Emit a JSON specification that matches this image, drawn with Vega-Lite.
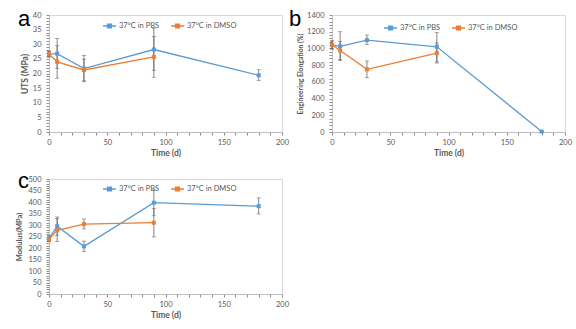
{
  "$schema": "https://vega.github.io/schema/vega-lite/v6.json",
  "background": "white",
  "padding": {"left": 15, "top": 7, "right": 0, "bottom": 0},
  "config": {
    "font": "Lato",
    "view": {"stroke": "#d9d9d9", "strokeWidth": 1},
    "axis": {"grid": false, "domainColor": "#bfbfbf", "tickColor": "#8c8c8c", "tickSize": 3, "labelColor": "#595959", "labelFontSize": 7.5, "titleColor": "#595959", "titleFontSize": 8.5, "titleFontWeight": "bold", "labelOverlap": false, "labelBound": false, "labelFlush": false},
    "legend": {"labelFontSize": 7.5, "labelColor": "#595959"}
  },
  "datasets": {
    "d": [
      {"p": "a", "s": "37°C in PBS", "t": 0, "v": 26.6, "lo": 25.6, "hi": 27.6},
      {"p": "a", "s": "37°C in PBS", "t": 7, "v": 26.8, "lo": 21.7, "hi": 32.0},
      {"p": "a", "s": "37°C in PBS", "t": 30, "v": 21.7, "lo": 17.2, "hi": 26.2},
      {"p": "a", "s": "37°C in PBS", "t": 90, "v": 28.2, "lo": 21.1, "hi": 35.5},
      {"p": "a", "s": "37°C in PBS", "t": 180, "v": 19.4, "lo": 17.6, "hi": 21.3},
      {"p": "a", "s": "37°C in DMSO", "t": 0, "v": 26.7, "lo": 25.7, "hi": 27.7},
      {"p": "a", "s": "37°C in DMSO", "t": 7, "v": 24.0, "lo": 18.4, "hi": 29.5},
      {"p": "a", "s": "37°C in DMSO", "t": 30, "v": 21.2, "lo": 17.5, "hi": 24.9},
      {"p": "a", "s": "37°C in DMSO", "t": 90, "v": 25.7, "lo": 18.7, "hi": 32.7},
      {"p": "b", "s": "37°C in PBS", "t": 0, "v": 1040, "lo": 990, "hi": 1090},
      {"p": "b", "s": "37°C in PBS", "t": 7, "v": 1025, "lo": 855, "hi": 1200},
      {"p": "b", "s": "37°C in PBS", "t": 30, "v": 1100, "lo": 1045, "hi": 1160},
      {"p": "b", "s": "37°C in PBS", "t": 90, "v": 1020, "lo": 840, "hi": 1190},
      {"p": "b", "s": "37°C in PBS", "t": 180, "v": 5, "lo": 0, "hi": 10},
      {"p": "b", "s": "37°C in DMSO", "t": 0, "v": 1045, "lo": 1000, "hi": 1090},
      {"p": "b", "s": "37°C in DMSO", "t": 7, "v": 975, "lo": 865, "hi": 1085},
      {"p": "b", "s": "37°C in DMSO", "t": 30, "v": 750, "lo": 650, "hi": 850},
      {"p": "b", "s": "37°C in DMSO", "t": 90, "v": 945, "lo": 825, "hi": 1065},
      {"p": "c", "s": "37°C in PBS", "t": 0, "v": 242, "lo": 230, "hi": 254},
      {"p": "c", "s": "37°C in PBS", "t": 7, "v": 295, "lo": 255, "hi": 335},
      {"p": "c", "s": "37°C in PBS", "t": 30, "v": 207, "lo": 185, "hi": 230},
      {"p": "c", "s": "37°C in PBS", "t": 90, "v": 397, "lo": 340, "hi": 452},
      {"p": "c", "s": "37°C in PBS", "t": 180, "v": 382, "lo": 348, "hi": 418},
      {"p": "c", "s": "37°C in DMSO", "t": 0, "v": 238, "lo": 228, "hi": 248},
      {"p": "c", "s": "37°C in DMSO", "t": 7, "v": 277, "lo": 228, "hi": 328},
      {"p": "c", "s": "37°C in DMSO", "t": 30, "v": 304, "lo": 283, "hi": 326},
      {"p": "c", "s": "37°C in DMSO", "t": 90, "v": 310, "lo": 248, "hi": 372}
    ]
  },
  "bounds": "flush",
  "columns": 2,
  "spacing": {"column": 50, "row": 47},
  "resolve": {"scale": {"color": "independent", "x": "independent", "y": "independent"}, "legend": {"color": "independent"}, "axis": {"x": "independent", "y": "independent"}},
  "concat": [
    {
      "width": 233, "height": 117,
      "title": {"text": "a", "anchor": "start", "frame": "group", "fontSize": 22, "fontWeight": "normal", "color": "black", "font": "Liberation Sans", "baseline": "alphabetic", "offset": 0, "dy": 37, "dx": -31},
      "data": {"name": "d"},
      "transform": [{"filter": "datum.p === 'a'"}],
      "encoding": {
        "x": {"field": "t", "type": "quantitative", "scale": {"domain": [0, 200]}, "title": "Time (d)",
          "axis": {"values": [0,10,20,30,40,50,60,70,80,90,100,110,120,130,140,150,160,170,180,190,200], "labelExpr": "datum.value % 50 === 0 ? datum.label : ''", "labelOverlap": false, "labelPadding": 3, "titlePadding": 3}}
      },
      "layer": [
        {"mark": {"type": "rule", "color": "#666666", "strokeWidth": 0.8},
         "encoding": {"y": {"field": "lo", "type": "quantitative", "scale": {"domain": [0, 40]}, "title": "UTS (MPa)",
           "axis": {"values": [0,1,2,3,4,5,6,7,8,9,10,11,12,13,14,15,16,17,18,19,20,21,22,23,24,25,26,27,28,29,30,31,32,33,34,35,36,37,38,39,40], "labelExpr": "datum.value % 5 === 0 ? datum.label : ''", "labelOverlap": false, "labelPadding": 5, "titlePadding": 3}},
           "y2": {"field": "hi"}}},
        {"mark": {"type": "tick", "orient": "horizontal", "size": 4, "thickness": 0.8, "color": "#666666"},
         "encoding": {"y": {"field": "lo", "type": "quantitative", "title": "UTS (MPa)",
           "axis": {"values": [0,1,2,3,4,5,6,7,8,9,10,11,12,13,14,15,16,17,18,19,20,21,22,23,24,25,26,27,28,29,30,31,32,33,34,35,36,37,38,39,40], "labelExpr": "datum.value % 5 === 0 ? datum.label : ''", "labelOverlap": false, "labelPadding": 5, "titlePadding": 3}}}},
        {"mark": {"type": "tick", "orient": "horizontal", "size": 4, "thickness": 0.8, "color": "#666666"},
         "encoding": {"y": {"field": "hi", "type": "quantitative", "title": "UTS (MPa)",
           "axis": {"values": [0,1,2,3,4,5,6,7,8,9,10,11,12,13,14,15,16,17,18,19,20,21,22,23,24,25,26,27,28,29,30,31,32,33,34,35,36,37,38,39,40], "labelExpr": "datum.value % 5 === 0 ? datum.label : ''", "labelOverlap": false, "labelPadding": 5, "titlePadding": 3}}}},
        {"mark": {"type": "line", "strokeWidth": 1.3},
         "encoding": {"y": {"field": "v", "type": "quantitative", "title": "UTS (MPa)",
           "axis": {"values": [0,1,2,3,4,5,6,7,8,9,10,11,12,13,14,15,16,17,18,19,20,21,22,23,24,25,26,27,28,29,30,31,32,33,34,35,36,37,38,39,40], "labelExpr": "datum.value % 5 === 0 ? datum.label : ''", "labelOverlap": false, "labelPadding": 5, "titlePadding": 3}},
           "color": {"field": "s", "type": "nominal", "scale": {"domain": ["37°C in PBS", "37°C in DMSO"], "range": ["#5B9BD5", "#ED7D31"]},
             "legend": {"title": null, "orient": "none", "legendX": 53, "legendY": 3, "direction": "horizontal", "symbolType": "M-1,0H1M-0.3,-0.3H0.3V0.3H-0.3Z", "symbolSize": 169, "symbolStrokeWidth": 1.3, "columnPadding": 8, "labelOffset": 2,
               "encode": {"symbols": {"update": {"fill": {"signal": "datum.value === '37°C in PBS' ? '#5B9BD5' : '#ED7D31'"}, "opacity": {"value": 1}}}}}}}},
        {"mark": {"type": "point", "shape": "square", "filled": true, "size": 16, "opacity": 1},
         "encoding": {"y": {"field": "v", "type": "quantitative", "title": "UTS (MPa)",
           "axis": {"values": [0,1,2,3,4,5,6,7,8,9,10,11,12,13,14,15,16,17,18,19,20,21,22,23,24,25,26,27,28,29,30,31,32,33,34,35,36,37,38,39,40], "labelExpr": "datum.value % 5 === 0 ? datum.label : ''", "labelOverlap": false, "labelPadding": 5, "titlePadding": 3}},
           "color": {"field": "s", "type": "nominal", "scale": {"domain": ["37°C in PBS", "37°C in DMSO"], "range": ["#5B9BD5", "#ED7D31"]}}}}
      ]
    },
    {
      "width": 233, "height": 117,
      "title": {"text": "b", "anchor": "start", "frame": "group", "fontSize": 22, "fontWeight": "normal", "color": "black", "font": "Liberation Sans", "baseline": "alphabetic", "offset": 0, "dy": 37, "dx": -43},
      "data": {"name": "d"},
      "transform": [{"filter": "datum.p === 'b'"}],
      "encoding": {
        "x": {"field": "t", "type": "quantitative", "scale": {"domain": [0, 200]}, "title": "Time (d)",
          "axis": {"values": [0,10,20,30,40,50,60,70,80,90,100,110,120,130,140,150,160,170,180,190,200], "labelExpr": "datum.value % 50 === 0 ? datum.label : ''", "labelOverlap": false, "labelPadding": 3, "titlePadding": 3}}
      },
      "layer": [
        {"mark": {"type": "rule", "color": "#666666", "strokeWidth": 0.8},
         "encoding": {"y": {"field": "lo", "type": "quantitative", "scale": {"domain": [0, 1400]}, "title": "Engineering Elongation (%)",
           "axis": {"values": [0,40,80,120,160,200,240,280,320,360,400,440,480,520,560,600,640,680,720,760,800,840,880,920,960,1000,1040,1080,1120,1160,1200,1240,1280,1320,1360,1400], "format": "d", "labelExpr": "datum.value % 200 === 0 ? datum.label : ''", "labelOverlap": false, "labelPadding": 5, "titlePadding": 3, "titleFontSize": 6.8}},
           "y2": {"field": "hi"}}},
        {"mark": {"type": "tick", "orient": "horizontal", "size": 4, "thickness": 0.8, "color": "#666666"},
         "encoding": {"y": {"field": "lo", "type": "quantitative", "title": "Engineering Elongation (%)",
           "axis": {"values": [0,40,80,120,160,200,240,280,320,360,400,440,480,520,560,600,640,680,720,760,800,840,880,920,960,1000,1040,1080,1120,1160,1200,1240,1280,1320,1360,1400], "format": "d", "labelExpr": "datum.value % 200 === 0 ? datum.label : ''", "labelOverlap": false, "labelPadding": 5, "titlePadding": 3, "titleFontSize": 6.8}}}},
        {"mark": {"type": "tick", "orient": "horizontal", "size": 4, "thickness": 0.8, "color": "#666666"},
         "encoding": {"y": {"field": "hi", "type": "quantitative", "title": "Engineering Elongation (%)",
           "axis": {"values": [0,40,80,120,160,200,240,280,320,360,400,440,480,520,560,600,640,680,720,760,800,840,880,920,960,1000,1040,1080,1120,1160,1200,1240,1280,1320,1360,1400], "format": "d", "labelExpr": "datum.value % 200 === 0 ? datum.label : ''", "labelOverlap": false, "labelPadding": 5, "titlePadding": 3, "titleFontSize": 6.8}}}},
        {"mark": {"type": "line", "strokeWidth": 1.3},
         "encoding": {"y": {"field": "v", "type": "quantitative", "title": "Engineering Elongation (%)",
           "axis": {"values": [0,40,80,120,160,200,240,280,320,360,400,440,480,520,560,600,640,680,720,760,800,840,880,920,960,1000,1040,1080,1120,1160,1200,1240,1280,1320,1360,1400], "format": "d", "labelExpr": "datum.value % 200 === 0 ? datum.label : ''", "labelOverlap": false, "labelPadding": 5, "titlePadding": 3, "titleFontSize": 6.8}},
           "color": {"field": "s", "type": "nominal", "scale": {"domain": ["37°C in PBS", "37°C in DMSO"], "range": ["#5B9BD5", "#ED7D31"]},
             "legend": {"title": null, "orient": "none", "legendX": 51, "legendY": 5, "direction": "horizontal", "symbolType": "M-1,0H1M-0.3,-0.3H0.3V0.3H-0.3Z", "symbolSize": 169, "symbolStrokeWidth": 1.3, "columnPadding": 8, "labelOffset": 2,
               "encode": {"symbols": {"update": {"fill": {"signal": "datum.value === '37°C in PBS' ? '#5B9BD5' : '#ED7D31'"}, "opacity": {"value": 1}}}}}}}},
        {"mark": {"type": "point", "shape": "square", "filled": true, "size": 16, "opacity": 1},
         "encoding": {"y": {"field": "v", "type": "quantitative", "title": "Engineering Elongation (%)",
           "axis": {"values": [0,40,80,120,160,200,240,280,320,360,400,440,480,520,560,600,640,680,720,760,800,840,880,920,960,1000,1040,1080,1120,1160,1200,1240,1280,1320,1360,1400], "format": "d", "labelExpr": "datum.value % 200 === 0 ? datum.label : ''", "labelOverlap": false, "labelPadding": 5, "titlePadding": 3, "titleFontSize": 6.8}},
           "color": {"field": "s", "type": "nominal", "scale": {"domain": ["37°C in PBS", "37°C in DMSO"], "range": ["#5B9BD5", "#ED7D31"]}}}}
      ]
    },
    {
      "width": 233, "height": 115,
      "title": {"text": "c", "anchor": "start", "frame": "group", "fontSize": 22, "fontWeight": "normal", "color": "black", "font": "Liberation Sans", "baseline": "alphabetic", "offset": 0, "dy": 35, "dx": -31},
      "data": {"name": "d"},
      "transform": [{"filter": "datum.p === 'c'"}],
      "encoding": {
        "x": {"field": "t", "type": "quantitative", "scale": {"domain": [0, 200]}, "title": "Time (d)",
          "axis": {"values": [0,10,20,30,40,50,60,70,80,90,100,110,120,130,140,150,160,170,180,190,200], "labelExpr": "datum.value % 50 === 0 ? datum.label : ''", "labelOverlap": false, "labelPadding": 3, "titlePadding": 3}}
      },
      "layer": [
        {"mark": {"type": "rule", "color": "#666666", "strokeWidth": 0.8},
         "encoding": {"y": {"field": "lo", "type": "quantitative", "scale": {"domain": [0, 500]}, "title": "Modulus(MPa)",
           "axis": {"values": [0,10,20,30,40,50,60,70,80,90,100,110,120,130,140,150,160,170,180,190,200,210,220,230,240,250,260,270,280,290,300,310,320,330,340,350,360,370,380,390,400,410,420,430,440,450,460,470,480,490,500], "labelExpr": "datum.value % 50 === 0 ? datum.label : ''", "labelOverlap": false, "labelPadding": 5, "titlePadding": 4, "titleFontSize": 7.5}},
           "y2": {"field": "hi"}}},
        {"mark": {"type": "tick", "orient": "horizontal", "size": 4, "thickness": 0.8, "color": "#666666"},
         "encoding": {"y": {"field": "lo", "type": "quantitative", "title": "Modulus(MPa)",
           "axis": {"values": [0,10,20,30,40,50,60,70,80,90,100,110,120,130,140,150,160,170,180,190,200,210,220,230,240,250,260,270,280,290,300,310,320,330,340,350,360,370,380,390,400,410,420,430,440,450,460,470,480,490,500], "labelExpr": "datum.value % 50 === 0 ? datum.label : ''", "labelOverlap": false, "labelPadding": 5, "titlePadding": 4, "titleFontSize": 7.5}}}},
        {"mark": {"type": "tick", "orient": "horizontal", "size": 4, "thickness": 0.8, "color": "#666666"},
         "encoding": {"y": {"field": "hi", "type": "quantitative", "title": "Modulus(MPa)",
           "axis": {"values": [0,10,20,30,40,50,60,70,80,90,100,110,120,130,140,150,160,170,180,190,200,210,220,230,240,250,260,270,280,290,300,310,320,330,340,350,360,370,380,390,400,410,420,430,440,450,460,470,480,490,500], "labelExpr": "datum.value % 50 === 0 ? datum.label : ''", "labelOverlap": false, "labelPadding": 5, "titlePadding": 4, "titleFontSize": 7.5}}}},
        {"mark": {"type": "line", "strokeWidth": 1.3},
         "encoding": {"y": {"field": "v", "type": "quantitative", "title": "Modulus(MPa)",
           "axis": {"values": [0,10,20,30,40,50,60,70,80,90,100,110,120,130,140,150,160,170,180,190,200,210,220,230,240,250,260,270,280,290,300,310,320,330,340,350,360,370,380,390,400,410,420,430,440,450,460,470,480,490,500], "labelExpr": "datum.value % 50 === 0 ? datum.label : ''", "labelOverlap": false, "labelPadding": 5, "titlePadding": 4, "titleFontSize": 7.5}},
           "color": {"field": "s", "type": "nominal", "scale": {"domain": ["37°C in PBS", "37°C in DMSO"], "range": ["#5B9BD5", "#ED7D31"]},
             "legend": {"title": null, "orient": "none", "legendX": 53, "legendY": 2, "direction": "horizontal", "symbolType": "M-1,0H1M-0.3,-0.3H0.3V0.3H-0.3Z", "symbolSize": 169, "symbolStrokeWidth": 1.3, "columnPadding": 8, "labelOffset": 2,
               "encode": {"symbols": {"update": {"fill": {"signal": "datum.value === '37°C in PBS' ? '#5B9BD5' : '#ED7D31'"}, "opacity": {"value": 1}}}}}}}},
        {"mark": {"type": "point", "shape": "square", "filled": true, "size": 16, "opacity": 1},
         "encoding": {"y": {"field": "v", "type": "quantitative", "title": "Modulus(MPa)",
           "axis": {"values": [0,10,20,30,40,50,60,70,80,90,100,110,120,130,140,150,160,170,180,190,200,210,220,230,240,250,260,270,280,290,300,310,320,330,340,350,360,370,380,390,400,410,420,430,440,450,460,470,480,490,500], "labelExpr": "datum.value % 50 === 0 ? datum.label : ''", "labelOverlap": false, "labelPadding": 5, "titlePadding": 4, "titleFontSize": 7.5}},
           "color": {"field": "s", "type": "nominal", "scale": {"domain": ["37°C in PBS", "37°C in DMSO"], "range": ["#5B9BD5", "#ED7D31"]}}}}
      ]
    }
  ]
}
